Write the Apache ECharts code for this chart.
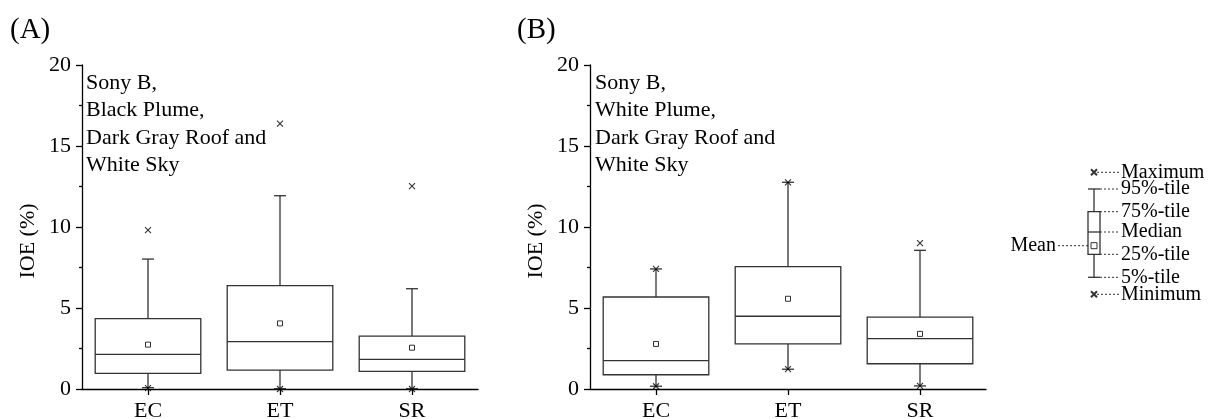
<!DOCTYPE html>
<html>
<head>
<meta charset="utf-8">
<script src="https://cdn.jsdelivr.net/npm/echarts/dist/echarts.min.js"></script>
<style>
  html, body { margin: 0; padding: 0; background: #fff; }
  #chart { width: 1211px; height: 419px; }
</style>
</head>
<body>
<div id="chart"></div>
<script>
// Categories shared by both panels
const categories = ['EC', 'ET', 'SR'];

// Panel (A): Sony B, Black Plume, Dark Gray Roof and White Sky
const minA  = [0.05, 0.0, 0.0];
const p5A   = [0.08, 0.02, 0.02];
const q1A   = [0.96, 1.17, 1.09];
const medA  = [2.14, 2.92, 1.83];
const q3A   = [4.34, 6.38, 3.27];
const p95A  = [8.02, 11.93, 6.19];
const maxA  = [9.81, 16.38, 12.53];
const meanA = [2.74, 4.05, 2.55];

// Panel (B): Sony B, White Plume, Dark Gray Roof and White Sky
const minB  = [0.17, 1.22, 0.19];
const p5B   = [0.17, 1.22, 0.19];
const q1B   = [0.88, 2.78, 1.56];
const medB  = [1.75, 4.49, 3.11];
const q3B   = [5.68, 7.55, 4.44];
const p95B  = [7.41, 12.76, 8.56];
const maxB  = [7.41, 12.76, 9.01];
const meanB = [2.78, 5.57, 3.40];

// Box-plot key (schematic positions on its own hidden scale)
const keyBox = [2.27, 4.57, 6.8, 8.83, 11.1];   // 5%, 25%, median, 75%, 95%
const keyMean = 5.43;
const keyMax = 12.77;
const keyMin = 0.57;
const keyLabels = ['Maximum', '95%-tile', '75%-tile', 'Median', '25%-tile', '5%-tile', 'Minimum', 'Mean'];
const keyValues = [12.77, 11.1, 8.83, 6.8, 4.57, 2.27, 0.57, 5.43];

const FONT = '"Liberation Serif", "Times New Roman", serif';
const INK = '#333';

function boxRows(p5, q1, med, q3, p95) {
  return categories.map((c, i) => [i, p5[i], q1[i], med[i], q3[i], p95[i]]);
}
function pairs(vals) {
  return categories.map((c, i) => [c, vals[i]]);
}

// Box with narrow whisker caps
function boxRenderer(frac, capHalf) {
  return function (params, api) {
    const cat = api.value(0);
    const band = api.size([1, 0])[0];
    const half = band * frac / 2;
    const pt = v => api.coord([cat, v]);
    const lo = pt(api.value(1)), q1 = pt(api.value(2)), md = pt(api.value(3)),
          q3 = pt(api.value(4)), hi = pt(api.value(5));
    const cx = md[0];
    const st = { stroke: INK, lineWidth: 1.3, fill: null };
    return {
      type: 'group',
      children: [
        { type: 'line', shape: { x1: cx, y1: q3[1], x2: cx, y2: hi[1] }, style: st },
        { type: 'line', shape: { x1: cx, y1: q1[1], x2: cx, y2: lo[1] }, style: st },
        { type: 'line', shape: { x1: cx - capHalf, y1: hi[1], x2: cx + capHalf, y2: hi[1] }, style: st },
        { type: 'line', shape: { x1: cx - capHalf, y1: lo[1], x2: cx + capHalf, y2: lo[1] }, style: st },
        { type: 'rect', shape: { x: cx - half, y: q3[1], width: 2 * half, height: q1[1] - q3[1] },
          style: { stroke: INK, lineWidth: 1.3, fill: '#fff' } },
        { type: 'line', shape: { x1: cx - half, y1: md[1], x2: cx + half, y2: md[1] }, style: st }
      ]
    };
  };
}

// Dotted leader lines and captions of the key
function keyLabelRenderer(params, api) {
  const label = keyLabels[params.dataIndex];
  const p = api.coord([0, api.value(1)]);
  const cx = p[0], y = p[1];
  const dash = { stroke: INK, lineWidth: 1, lineDash: [2, 2] };
  if (label === 'Mean') {
    return {
      type: 'group',
      children: [
        { type: 'line', shape: { x1: cx - 6, y1: y, x2: cx - 37, y2: y }, style: dash },
        { type: 'text', x: cx - 38, y: y,
          style: { text: label, font: '20px ' + FONT, fill: '#000', textAlign: 'right', textVerticalAlign: 'middle' } }
      ]
    };
  }
  const start = (label === 'Maximum' || label === 'Minimum') ? cx + 3 : cx + 6;
  return {
    type: 'group',
    children: [
      { type: 'line', shape: { x1: start, y1: y, x2: cx + 26, y2: y }, style: dash },
      { type: 'text', x: cx + 27, y: y,
        style: { text: label, font: '20px ' + FONT, fill: '#000', textAlign: 'left', textVerticalAlign: 'middle' } }
    ]
  };
}

const crossPath = 'path://M0,0L10,10M10,0L0,10';

function valueAxis(gridIndex) {
  return {
    type: 'value', gridIndex, min: 0, max: 20, interval: 5,
    name: 'IOE (%)', nameLocation: 'middle', nameGap: 43,
    nameTextStyle: { fontFamily: FONT, fontSize: 22, color: '#000', padding: [0, 28, 0, 0] },
    axisLine: { show: true, lineStyle: { color: '#000', width: 1.3 } },
    axisTick: { show: true, inside: false, length: 6, lineStyle: { color: '#000', width: 1.3 } },
    minorTick: { show: true, splitNumber: 2, length: 3, lineStyle: { color: '#000', width: 1.3 } },
    axisLabel: { fontFamily: FONT, fontSize: 22, color: '#000', margin: 11 },
    splitLine: { show: false }
  };
}
function catAxis(gridIndex) {
  return {
    type: 'category', gridIndex, data: categories, boundaryGap: true,
    axisLine: { show: true, lineStyle: { color: '#000', width: 1.3 } },
    axisTick: { show: true, alignWithLabel: true, length: 6, lineStyle: { color: '#000', width: 1.3 } },
    axisLabel: { fontFamily: FONT, fontSize: 22, color: '#000', margin: 11 },
    splitLine: { show: false }
  };
}

function panelSeries(idx, p5, q1, med, q3, p95, mean, max, min) {
  return [
    { type: 'custom', xAxisIndex: idx, yAxisIndex: idx, renderItem: boxRenderer(0.8, 6),
      encode: { x: 0, y: [1, 2, 3, 4, 5] }, data: boxRows(p5, q1, med, q3, p95), z: 2, silent: true },
    { type: 'scatter', xAxisIndex: idx, yAxisIndex: idx, symbol: 'rect', symbolSize: 5,
      itemStyle: { color: '#fff', borderColor: '#000', borderWidth: 1 }, data: pairs(mean), z: 4, silent: true },
    { type: 'scatter', xAxisIndex: idx, yAxisIndex: idx, symbol: crossPath, symbolSize: 6,
      itemStyle: { color: 'none', borderColor: '#000', borderWidth: 1.1 }, data: pairs(max).concat(pairs(min)),
      z: 4, silent: true }
  ];
}

const chart = echarts.init(document.getElementById('chart'), null, { renderer: 'canvas' });

chart.setOption({
  backgroundColor: '#fff',
  animation: false,
  grid: [
    { left: 82, top: 65, width: 396, height: 324, outerBoundsMode: 'none' },
    { left: 590, top: 65, width: 396, height: 324, outerBoundsMode: 'none' },
    { left: 1088, top: 150, width: 12, height: 150, outerBoundsMode: 'none' }
  ],
  xAxis: [
    catAxis(0),
    catAxis(1),
    { type: 'category', gridIndex: 2, data: [''], show: false }
  ],
  yAxis: [
    valueAxis(0),
    valueAxis(1),
    { type: 'value', gridIndex: 2, min: 0, max: 15, show: false }
  ],
  graphic: [
    { type: 'text', left: 10, top: 16, style: { text: '(A)', font: '29px ' + FONT, fill: '#000' } },
    { type: 'text', left: 517, top: 16, style: { text: '(B)', font: '29px ' + FONT, fill: '#000' } },
    { type: 'text', left: 86, top: 69,
      style: { text: 'Sony B,\nBlack Plume,\nDark Gray Roof and\nWhite Sky', font: '22px ' + FONT,
               lineHeight: 27.5, fill: '#000' } },
    { type: 'text', left: 595, top: 69,
      style: { text: 'Sony B,\nWhite Plume,\nDark Gray Roof and\nWhite Sky', font: '22px ' + FONT,
               lineHeight: 27.5, fill: '#000' } }
  ],
  series: [
    ...panelSeries(0, p5A, q1A, medA, q3A, p95A, meanA, maxA, minA),
    ...panelSeries(1, p5B, q1B, medB, q3B, p95B, meanB, maxB, minB),
    // key
    { type: 'custom', xAxisIndex: 2, yAxisIndex: 2, renderItem: boxRenderer(1.0, 6),
      encode: { x: 0, y: [1, 2, 3, 4, 5] }, data: [[0].concat(keyBox)], z: 2, silent: true },
    { type: 'custom', xAxisIndex: 2, yAxisIndex: 2, renderItem: keyLabelRenderer,
      encode: { x: 0, y: 1 }, data: keyValues.map(v => [0, v]), z: 3, silent: true },
    { type: 'scatter', xAxisIndex: 2, yAxisIndex: 2, symbol: 'rect', symbolSize: 6,
      itemStyle: { color: '#fff', borderColor: '#000', borderWidth: 1 }, data: [['', keyMean]], z: 4, silent: true },
    { type: 'scatter', xAxisIndex: 2, yAxisIndex: 2, symbol: crossPath, symbolSize: 6,
      itemStyle: { color: 'none', borderColor: '#000', borderWidth: 2 },
      data: [['', keyMax], ['', keyMin]], z: 4, silent: true }
  ]
});
</script>
</body>
</html>
